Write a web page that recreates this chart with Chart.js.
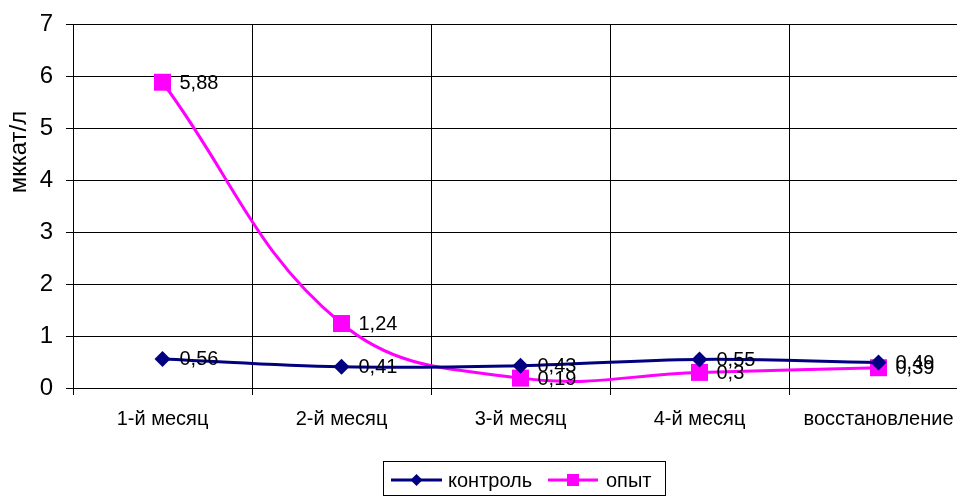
<!DOCTYPE html>
<html>
<head>
<meta charset="utf-8">
<script src="https://cdn.jsdelivr.net/npm/chart.js@4"></script>
<style>
  html, body { margin: 0; padding: 0; background: #fff; overflow: hidden; width: 957px; height: 498px; }
  canvas { display: block; }
</style>
</head>
<body>
<canvas id="c" width="980" height="498"></canvas>
<script>
// Enzyme activity over the study period
const categories = ['1-й месяц', '2-й месяц', '3-й месяц', '4-й месяц', 'восстановление'];
const controlValues = [0.56, 0.41, 0.43, 0.55, 0.49];
const experimentValues = [5.88, 1.24, 0.19, 0.3, 0.39];
const yTicks = [0, 1, 2, 3, 4, 5, 6, 7];
const seriesNames = ['контроль', 'опыт'];
const yTitle = 'мккат/л';

const NAVY = '#000080';
const MAGENTA = '#FF00FF';
const FONT = '"Liberation Sans", Arial, sans-serif';

const fmt = v => String(v).replace('.', ',');

// Value labels to the right of every point
const valueLabels = {
  id: 'valueLabels',
  afterDatasetsDraw(chart) {
    const ctx = chart.ctx;
    ctx.save();
    ctx.font = '20px ' + FONT;
    ctx.fillStyle = '#000';
    ctx.textAlign = 'left';
    ctx.textBaseline = 'middle';
    chart.data.datasets.forEach((ds, i) => {
      chart.getDatasetMeta(i).data.forEach((pt, j) => {
        ctx.fillText(fmt(ds.data[j]), pt.x + 17, pt.y + 1);
      });
    });
    ctx.restore();
  }
};

// Rotated axis title and boxed legend
const decorations = {
  id: 'decorations',
  afterDraw(chart) {
    const ctx = chart.ctx;
    ctx.save();
    ctx.fillStyle = '#000';
    ctx.font = '24px ' + FONT;
    ctx.textAlign = 'center';
    ctx.textBaseline = 'middle';
    ctx.translate(19, 152);
    ctx.rotate(-Math.PI / 2);
    ctx.fillText(yTitle, 0, 0);
    ctx.restore();

    ctx.save();
    ctx.strokeStyle = '#000';
    ctx.lineWidth = 1;
    ctx.strokeRect(383.5, 461.5, 282, 34);
    const y = 480;
    ctx.font = '20px ' + FONT;
    ctx.textBaseline = 'middle';
    ctx.textAlign = 'left';
    const items = [
      { x0: 391, x1: 442, tx: 448, ds: chart.data.datasets[0] },
      { x0: 548, x1: 598, tx: 606, ds: chart.data.datasets[1] }
    ];
    items.forEach(it => {
      ctx.strokeStyle = it.ds.borderColor;
      ctx.lineWidth = 3;
      ctx.beginPath();
      ctx.moveTo(it.x0, y);
      ctx.lineTo(it.x1, y);
      ctx.stroke();
      const cx = (it.x0 + it.x1) / 2;
      ctx.fillStyle = it.ds.backgroundColor;
      ctx.beginPath();
      if (it.ds.pointStyle === 'rectRot') {
        ctx.moveTo(cx, y - 6); ctx.lineTo(cx + 6, y); ctx.lineTo(cx, y + 6); ctx.lineTo(cx - 6, y);
        ctx.closePath();
      } else {
        ctx.rect(cx - 6, y - 6, 12, 12);
      }
      ctx.fill();
      ctx.fillStyle = '#000';
      ctx.fillText(it.ds.label, it.tx, y + 1);
    });
    ctx.restore();
  }
};

new Chart(document.getElementById('c'), {
  type: 'line',
  data: {
    labels: categories,
    datasets: [
      {
        label: seriesNames[0],
        data: controlValues,
        borderColor: NAVY,
        backgroundColor: NAVY,
        borderWidth: 3,
        pointStyle: 'rectRot',
        pointRadius: 8,
        pointBorderWidth: 0,
        tension: 0.4
      },
      {
        label: seriesNames[1],
        data: experimentValues,
        borderColor: MAGENTA,
        backgroundColor: MAGENTA,
        borderWidth: 3,
        pointStyle: 'rect',
        pointRadius: 12,
        pointBorderWidth: 0,
        tension: 0.4
      }
    ]
  },
  options: {
    responsive: false,
    animation: false,
    devicePixelRatio: 1,
    layout: { padding: { top: 24, right: 2, left: 0, bottom: 0 } },
    plugins: { legend: { display: false }, tooltip: { enabled: false } },
    scales: {
      x: {
        type: 'category',
        offset: true,
        grid: { offset: true, color: '#000', lineWidth: 1, tickLength: 7, drawTicks: true },
        border: { color: '#000', width: 1 },
        ticks: { color: '#000', font: { family: FONT, size: 20 }, padding: 12, maxRotation: 0, autoSkip: false },
        afterFit(scale) { scale.height = 110; }
      },
      y: {
        min: yTicks[0],
        max: yTicks[yTicks.length - 1],
        afterBuildTicks(scale) { scale.ticks = yTicks.map(v => ({ value: v })); },
        grid: { color: '#000', lineWidth: 1, tickLength: 7, drawTicks: true },
        border: { color: '#000', width: 1 },
        ticks: { color: '#000', font: { family: FONT, size: 24, lineHeight: 0.8 }, padding: 13 },
        afterFit(scale) { scale.width = 73; }
      }
    }
  },
  plugins: [valueLabels, decorations]
});
</script>
</body>
</html>
